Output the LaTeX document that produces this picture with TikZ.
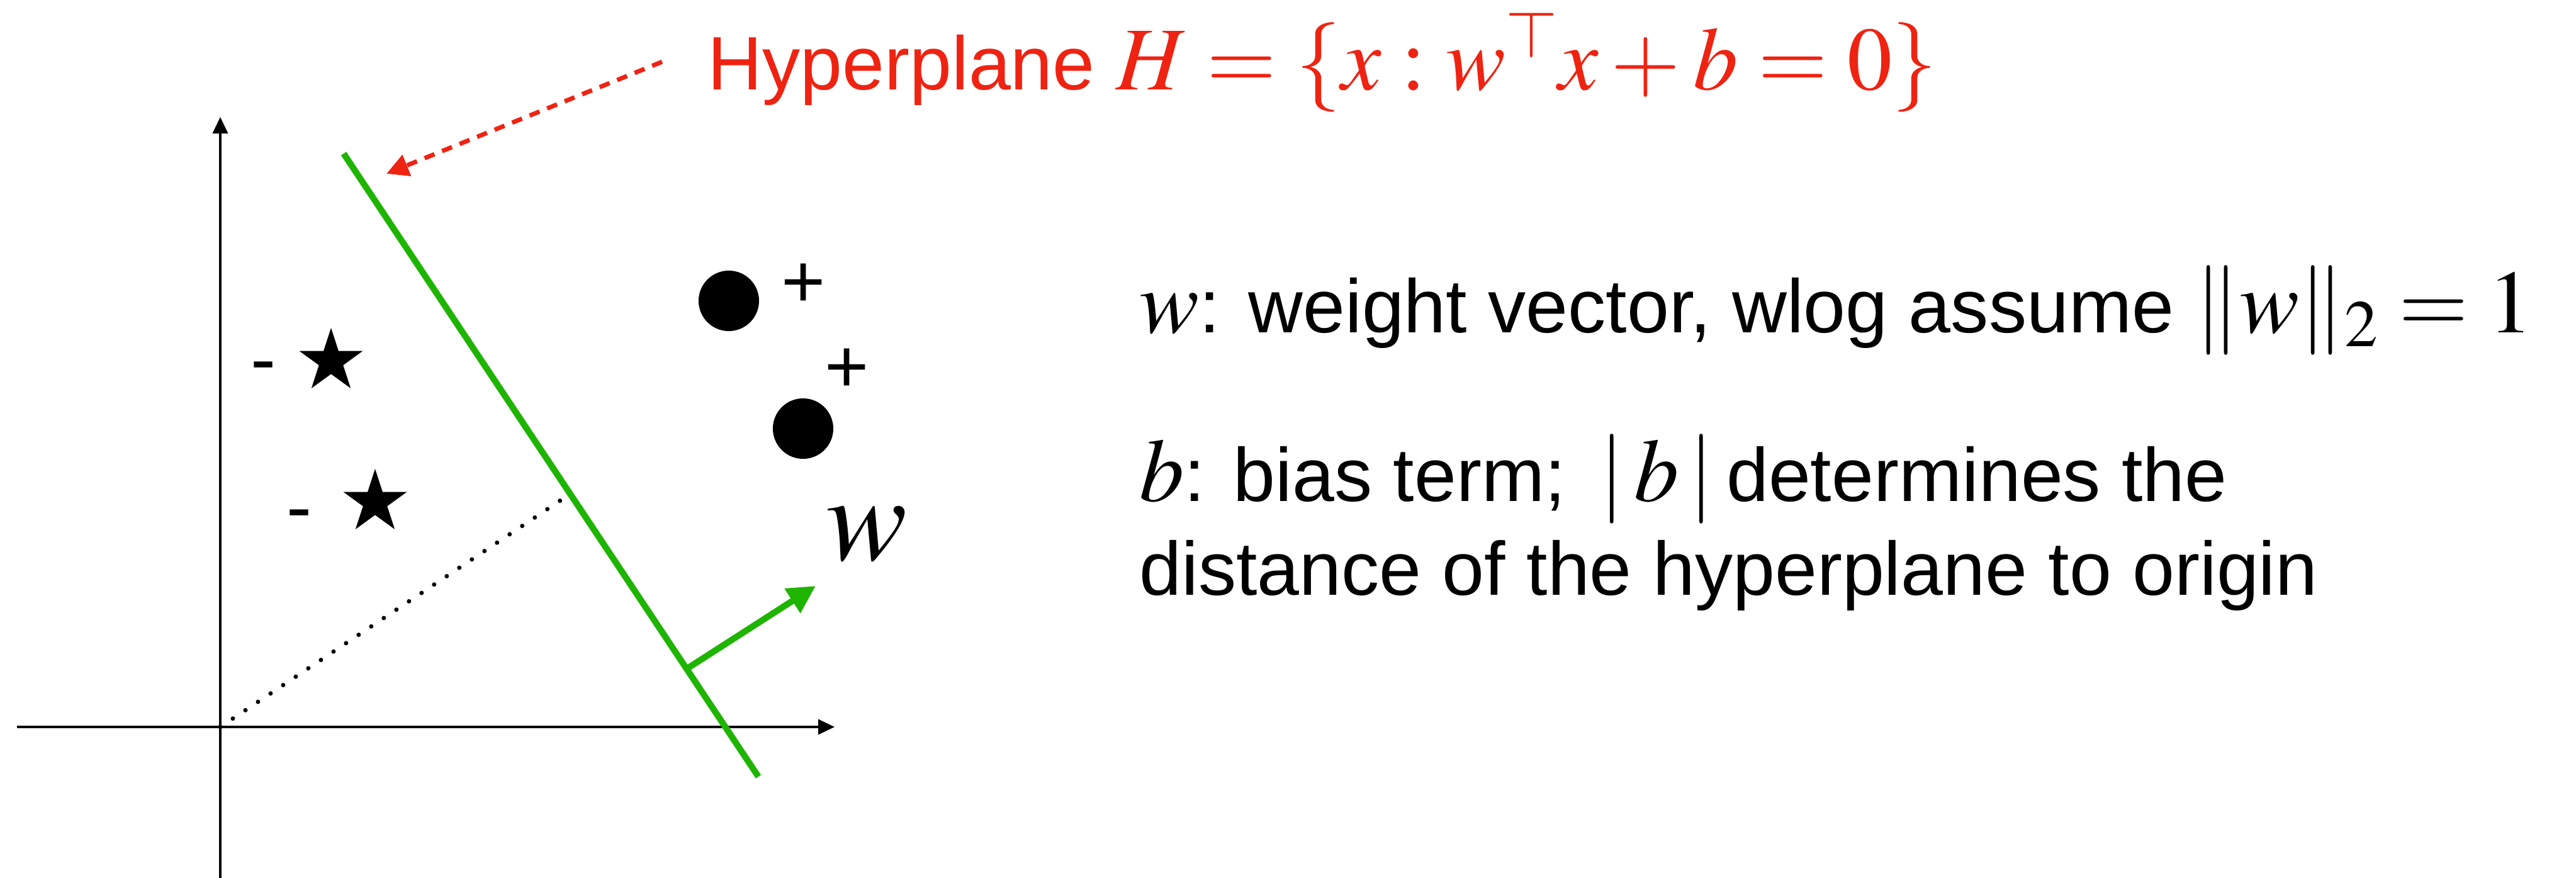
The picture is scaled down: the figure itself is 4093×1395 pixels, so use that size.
\documentclass[tikz,border=0pt]{standalone}
\usepackage{mathptmx}
\usepackage[no-math]{fontspec}
\setmainfont{Liberation Sans}
\usepackage{tikz}
\usetikzlibrary{arrows.meta, positioning, shapes.geometric, calc}
\definecolor{hypred}{HTML}{EF2312}
\definecolor{hypgreen}{HTML}{1EB400}
\newcommand{\bigmath}[1]{{\fontsize{40.5}{48}\selectfont$#1$}}

\begin{document}
\begin{tikzpicture}[
    x=0.01cm, y=-0.01cm,
    axis/.style={line width=0.035cm, -{Triangle[length=0.26cm, width=0.24cm]}},
    hyper/.style={draw=hypgreen, line width=0.1cm},
    normal/.style={draw=hypgreen, line width=0.1cm, -{Triangle[length=0.44cm, width=0.44cm]}},
    note/.style={draw=hypred, line width=0.07cm, dash pattern=on 0.17cm off 0.13cm, -{Triangle[length=0.35cm, width=0.35cm]}},
    dotline/.style={line width=0.07cm, line cap=round, dash pattern=on 0pt off 0.24cm},
    label/.style={font=\fontsize{34.2}{42.4}\selectfont, inner sep=0},
    negstar/.style={star, star points=5, star point ratio=2.618, fill=black, minimum size=1.06cm, inner sep=0},
    posdot/.style={circle, fill=black, minimum size=0.96cm, inner sep=0}
]
    \useasboundingbox (0,0) rectangle (4093,1395);

    % Achsen
    \coordinate (O) at (350,1155);
    \coordinate (xl) at (27,1155);
    \coordinate (xr) at (1326,1155);
    \coordinate (yb) at (350,1395);
    \coordinate (yt) at (350,186);
    \draw[axis] (xl) -- (xr);
    \draw[axis] (yb) -- (yt);

    % Hyperebene und Normalenvektor
    \coordinate (Htop) at (546,244);
    \coordinate (Hbot) at (1205,1234);
    \draw[hyper] (Htop) -- (Hbot);
    \draw[dotline] (O) -- ($(Htop)!(O)!(Hbot)$);
    \coordinate (wbase) at ($(Htop)!0.827!(Hbot)$);
    \coordinate (wtip) at (1296,931);
    \draw[normal] (wbase) -- (wtip);
    \node[anchor=base west, inner sep=0, font=\fontsize{55}{60}\selectfont] (wlab) at (1312,890) {$w$};

    % Punkte
    \node[negstar] (s1) at (526,574) {};
    \node[negstar] (s2) at (596,798) {};
    \node[label, anchor=base] (m1) at (419,612) {-};
    \node[label, anchor=base] (m2) at (476,847) {-};
    \node[posdot] (c1) at (1158,478) {};
    \node[posdot] (c2) at (1276,681) {};
    \node[label, anchor=base] (p1) at (1277,489) {+};
    \node[label, anchor=base] (p2) at (1346,624) {+};

    % Beschriftung Hyperebene
    \node[label, anchor=base west, text=hypred] (title) at (1124,143)
        {Hyperplane \bigmath{H=\{x:w^{\top}x+b=0\}}};
    \coordinate (hyptip) at (614,276);
    \draw[note] ([xshift=-0.72cm]title.west) -- (hyptip);

    % Erklaerungen
    \node[label, anchor=base west] (line1) at (1810,529)
        {\bigmath{w}: weight vector, wlog assume \bigmath{\|w\|_2=1}};
    \node[label, anchor=base west] (line2) at (1810,797)
        {\bigmath{b}: bias term; \,\bigmath{|\,b\,|}\,determines the};
    \node[label, anchor=base west] (line3) at (1810,946)
        {distance of the hyperplane to origin};
\end{tikzpicture}
\end{document}
